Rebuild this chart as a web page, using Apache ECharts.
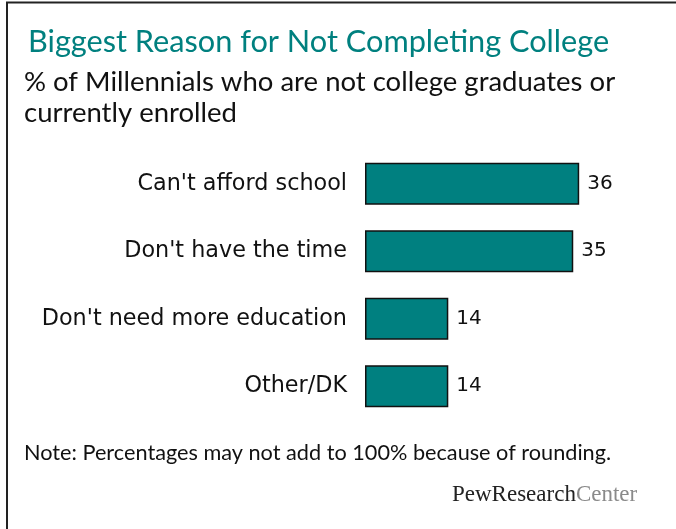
<!DOCTYPE html>
<html>
<head>
<meta charset="utf-8">
<script src="https://cdn.jsdelivr.net/npm/echarts@6/dist/echarts.min.js"></script>
<style>html,body{margin:0;padding:0;background:#fff;}#c{width:676px;height:529px;}</style>
</head>
<body>
<div id="c"></div>
<script>
const categories = ["Can't afford school", "Don't have the time", "Don't need more education", "Other/DK"];
const values = [36, 35, 14, 14];
const titleText = "Biggest Reason for Not Completing College";
const subtitleLines = ["% of Millennials who are not college graduates or", "currently enrolled"];
const noteText = "Note: Percentages may not add to 100% because of rounding.";

const chart = echarts.init(document.getElementById('c'));
chart.setOption({
  backgroundColor: '#fff',
  animation: false,
  grid: { left: 365, top: 150, width: 238, height: 270, containLabel: false },
  xAxis: { type: 'value', min: 0, max: 40, show: false },
  yAxis: {
    type: 'category', data: categories, inverse: true,
    axisLine: { show: false }, axisTick: { show: false }, splitLine: { show: false },
    axisLabel: { margin: 18, fontFamily: 'DejaVu Sans', fontSize: 22.3, color: '#111' }
  },
  series: [{
    type: 'bar', data: values, barWidth: 42,
    itemStyle: { color: '#008080', borderColor: '#111', borderWidth: 1.5 },
    label: { show: true, position: 'right', distance: 8, fontFamily: 'DejaVu Sans', fontSize: 20, color: '#111' }
  }],
  graphic: [
    { type: 'line', shape: { x1: 6, y1: 2.5, x2: 676, y2: 2.5 }, style: { stroke: '#222', lineWidth: 2 } },
    { type: 'line', shape: { x1: 7, y1: 2, x2: 7, y2: 529 }, style: { stroke: '#222', lineWidth: 2 } },
    { type: 'text', x: 28, y: 42, style: { text: titleText, font: '30.7px Lato', fill: '#00807f', verticalAlign: 'middle' } },
    { type: 'text', x: 24, y: 82, style: { text: subtitleLines[0], font: '27.5px Lato', fill: '#111', verticalAlign: 'middle' } },
    { type: 'text', x: 24, y: 113, style: { text: subtitleLines[1], font: '27.5px Lato', fill: '#111', verticalAlign: 'middle' } },
    { type: 'text', x: 24, y: 453, style: { text: noteText, font: '21.7px Lato', fill: '#111', verticalAlign: 'middle' } },
    { type: 'text', x: 452, y: 495, style: {
        text: '{a|PewResearch}{b|Center}', verticalAlign: 'middle',
        rich: {
          a: { fontFamily: 'Liberation Serif', fontSize: 23, fill: '#222' },
          b: { fontFamily: 'Liberation Serif', fontSize: 23, fill: '#8a8a8a' }
        }
      } }
  ]
});
</script>
</body>
</html>
